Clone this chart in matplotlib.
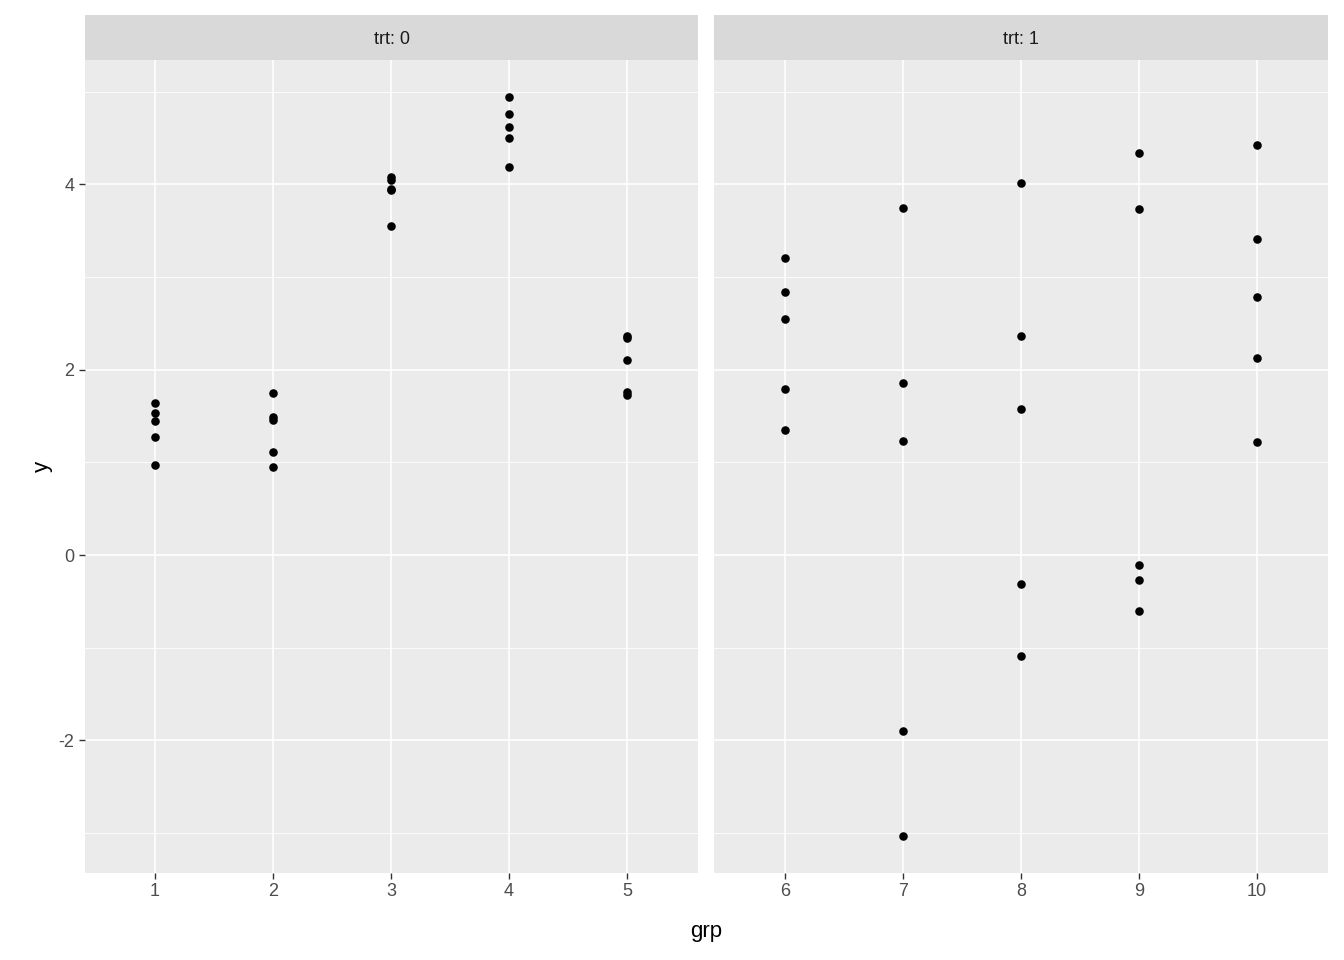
import matplotlib
matplotlib.use("Agg")
import matplotlib.pyplot as plt

plt.rcParams["font.family"] = ["Liberation Sans", "DejaVu Sans"]
plt.rcParams["axes.unicode_minus"] = False

# values, one list per group
grp = [1, 2, 3, 4, 5, 6, 7, 8, 9, 10]
y_vals = [
    [1.64, 1.53, 1.45, 1.27, 0.97],
    [1.75, 1.49, 1.46, 1.11, 0.95],
    [4.08, 4.05, 3.95, 3.94, 3.55],
    [4.94, 4.76, 4.62, 4.50, 4.19],
    [2.36, 2.34, 2.10, 1.76, 1.73],
    [3.20, 2.84, 2.55, 1.79, 1.35],
    [3.74, 1.86, 1.23, -1.90, -3.03],
    [4.01, 2.36, 1.57, -0.31, -1.09],
    [4.34, 3.73, -0.11, -0.27, -0.60],
    [4.42, 3.41, 2.78, 2.13, 1.22],
]
trt = [0, 0, 0, 0, 0, 1, 1, 1, 1, 1]

W, H = 1344, 960
fig = plt.figure(figsize=(W / 100, H / 100), dpi=100)
panels = [(85, 698, 0, (0.41, 5.6)), (714, 1328, 1, (5.4, 10.6))]
ylim = (-3.43, 5.34)

for i, (x0, x1, t, xlim) in enumerate(panels):
    ax = fig.add_axes([x0 / W, 1 - 873 / H, (x1 - x0) / W, (873 - 60) / H])
    ax.set_facecolor("#EBEBEB")
    ax.set_xlim(*xlim)
    ax.set_ylim(*ylim)
    for yy in [-3, -1, 1, 3, 5]:
        ax.axhline(yy, color="white", lw=0.6, zorder=0)
    for yy in [-2, 0, 2, 4]:
        ax.axhline(yy, color="white", lw=1.2, zorder=0)
    xs = [g for g, tt in zip(grp, trt) if tt == t]
    for g in xs:
        ax.axvline(g, color="white", lw=1.2, zorder=0)
        ax.scatter([g] * 5, y_vals[g - 1], s=38, color="black", zorder=3, lw=0)
    ax.set_xticks(xs)
    ax.set_yticks([-2, 0, 2, 4])
    ax.tick_params(colors="#4D4D4D", labelsize=13, length=4, width=1, color="#333333")
    if i == 1:
        ax.tick_params(axis="y", left=False, labelleft=False)
    else:
        ax.set_ylabel("y", fontsize=16)
    for s in ax.spines.values():
        s.set_visible(False)
    # facet strip
    sax = fig.add_axes([x0 / W, 1 - 60 / H, (x1 - x0) / W, 45 / H])
    sax.set_facecolor("#D9D9D9")
    sax.set_xticks([])
    sax.set_yticks([])
    for s in sax.spines.values():
        s.set_visible(False)
    sax.text(0.5, 0.45, f"trt: {t}", ha="center", va="center", fontsize=13, color="#1A1A1A")

fig.text((85 + 1328) / 2 / W, 1 - 932 / H, "grp", ha="center", va="center", fontsize=16)
fig.savefig("out.png", dpi=100)
